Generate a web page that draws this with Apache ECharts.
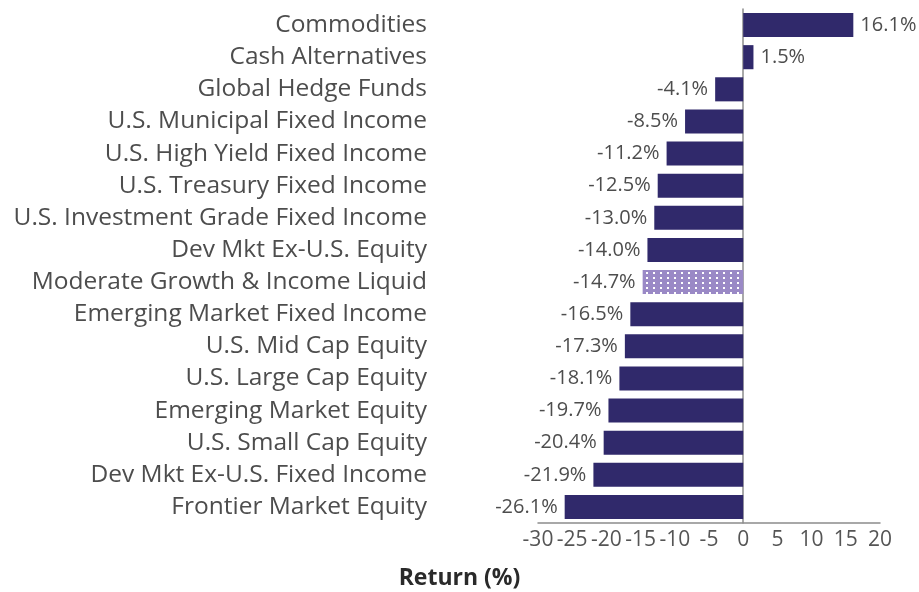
<!DOCTYPE html>
<html><head><meta charset="utf-8">
<script src="https://cdn.jsdelivr.net/npm/echarts@6/dist/echarts.min.js"></script>
<style>html,body{margin:0;padding:0;background:#fff}#c{width:919px;height:592px}</style>
</head><body><div id="c"></div>
<script>
const categories = ["Commodities","Cash Alternatives","Global Hedge Funds","U.S. Municipal Fixed Income","U.S. High Yield Fixed Income","U.S. Treasury Fixed Income","U.S. Investment Grade Fixed Income","Dev Mkt Ex-U.S. Equity","Moderate Growth & Income Liquid","Emerging Market Fixed Income","U.S. Mid Cap Equity","U.S. Large Cap Equity","Emerging Market Equity","U.S. Small Cap Equity","Dev Mkt Ex-U.S. Fixed Income","Frontier Market Equity"];
const values = [16.1,1.5,-4.1,-8.5,-11.2,-12.5,-13.0,-14.0,-14.7,-16.5,-17.3,-18.1,-19.7,-20.4,-21.9,-26.1];
const highlighted = "Moderate Growth & Income Liquid";
const xTicks = {min:-30, max:20, interval:5};
const axisTitle = "Return (%)";

const FONT = "'Open Sans'";
const pc = document.createElement('canvas');
pc.width = 7; pc.height = 5;
const g = pc.getContext('2d');
g.fillStyle = '#9a89c6'; g.fillRect(0,0,7,5);
g.fillStyle = '#ffffff'; g.fillRect(2,2,2,2);

const data = categories.map((c,i)=>{
  const v = values[i];
  const o = {value:v, label:{position: v>=0?'right':'left'}};
  if (c===highlighted) o.itemStyle = {color:{image:pc, repeat:'repeat'}};
  return o;
});

const chart = echarts.init(document.getElementById('c'), null, {renderer:'canvas'});
chart.setOption({
  animation:false,
  grid:{left:538, right:39, top:9, bottom:69, containLabel:false},
  xAxis:{type:'value', min:xTicks.min, max:xTicks.max, interval:xTicks.interval,
    axisLine:{show:true, lineStyle:{color:'#8c8c8c', width:1.5}},
    axisTick:{show:false}, splitLine:{show:false},
    axisLabel:{color:'#555', fontSize:21, fontFamily:FONT, margin:7}},
  yAxis:{type:'category', data:categories, inverse:true,
    axisLine:{show:true, onZero:true, lineStyle:{color:'#8c8c8c', width:1.5}},
    axisTick:{show:false},
    axisLabel:{color:'#4d4d4d', fontSize:24.5, fontFamily:FONT, margin:111, interval:0, padding:[0,0,5,0]}},
  series:[{type:'bar', data:data, barWidth:'75%',
    itemStyle:{color:'#30296b'},
    label:{show:true, fontSize:20, fontFamily:FONT, color:'#4d4d4d', distance:7,
      formatter:p=>p.value.toFixed(1)+'%'}}],
  graphic:[{type:'text', left:'center', top:567,
    style:{text:axisTitle, fontSize:23, fontWeight:'bold', fontFamily:FONT, fill:'#2a2a2a'}}]
});
</script></body></html>
